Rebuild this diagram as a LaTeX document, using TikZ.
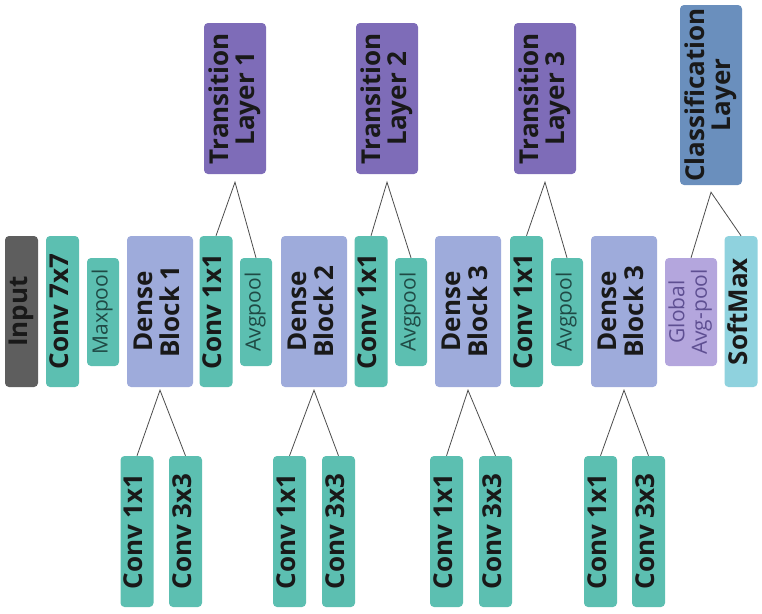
\documentclass[tikz,border=0pt]{standalone}
\usepackage{fontspec}
\setmainfont{Open Sans}
\usepackage{tikz}
\usetikzlibrary{calc,positioning}

\definecolor{inputgray}{HTML}{5E5E5E}
\definecolor{convteal}{HTML}{5CBFB1}
\definecolor{denseblue}{HTML}{9EABDB}
\definecolor{transpurple}{HTML}{7E6CB8}
\definecolor{classblue}{HTML}{6A8FBD}
\definecolor{globallilac}{HTML}{B4A6DD}
\definecolor{softcyan}{HTML}{8FD2DE}
\definecolor{pooltext}{HTML}{1F4A45}
\definecolor{globaltext}{HTML}{5E4F92}

\newcommand{\vtext}[1]{\rotatebox{90}{\begin{tabular}{@{}c@{}}#1\end{tabular}}}

\tikzset{
  layerbox/.style={rounded corners=4pt, inner sep=0pt, text=black!90,
    font=\fontsize{26}{24}\selectfont\bfseries},
  tallbox/.style={layerbox, minimum width=33pt, minimum height=151pt},
  convbox/.style={tallbox, fill=convteal},
  poolbox/.style={layerbox, fill=convteal, minimum width=32pt, minimum height=108pt,
    text=pooltext, font=\fontsize{21}{22}\selectfont},
  densebox/.style={layerbox, fill=denseblue, minimum width=66pt, minimum height=151pt},
  transbox/.style={layerbox, fill=transpurple, minimum width=62pt, minimum height=151pt},
  link/.style={draw=black!70, line width=0.8pt}
}

\begin{document}
\begin{tikzpicture}[x=1pt, y=-1pt]
\useasboundingbox (0,0) rectangle (762,613);

% main row
\node[tallbox, fill=inputgray] (in) at (21.5,311.5) {\vtext{Input}};
\node[convbox] (c7) at (62.5,311.5) {\vtext{Conv 7x7}};
\node[poolbox] (mp) at (103,312) {\vtext{Maxpool}};
\node[densebox] (db1) at (160,311.5) {\vtext{Dense\\Block 1}};
\node[convbox] (t1c) at (216,311.5) {\vtext{Conv 1x1}};
\node[poolbox] (t1p) at (256,312) {\vtext{Avgpool}};
\node[densebox] (db2) at (314,311.5) {\vtext{Dense\\Block 2}};
\node[convbox] (t2c) at (371,311.5) {\vtext{Conv 1x1}};
\node[poolbox] (t2p) at (411,312) {\vtext{Avgpool}};
\node[densebox] (db3) at (468,311.5) {\vtext{Dense\\Block 3}};
\node[convbox] (t3c) at (526.5,311.5) {\vtext{Conv 1x1}};
\node[poolbox] (t3p) at (567,312) {\vtext{Avgpool}};
\node[densebox] (db4) at (624,311.5) {\vtext{Dense\\Block 3}};
\node[poolbox, fill=globallilac, minimum width=52pt, text=globaltext] (gap) at (691,312) {\vtext{Global\\Avg-pool}};
\node[tallbox, fill=softcyan] (sm) at (741,311.5) {\vtext{SoftMax}};

% top row
\node[transbox] (tl1) at (235,98.5) {\vtext{Transition\\Layer 1}};
\node[transbox] (tl2) at (387,98.5) {\vtext{Transition\\Layer 2}};
\node[transbox] (tl3) at (545,98.5) {\vtext{Transition\\Layer 3}};
\node[transbox, fill=classblue, minimum height=180pt] (cl) at (711,95) {\vtext{Classification\\Layer}};

% bottom row
\node[convbox] (b1a) at (137,531.5) {\vtext{Conv 1x1}};
\node[convbox] (b1b) at (185.5,531.5) {\vtext{Conv 3x3}};
\node[convbox] (b2a) at (289.5,531.5) {\vtext{Conv 1x1}};
\node[convbox] (b2b) at (338.5,531.5) {\vtext{Conv 3x3}};
\node[convbox] (b3a) at (446.5,531.5) {\vtext{Conv 1x1}};
\node[convbox] (b3b) at (495.5,531.5) {\vtext{Conv 3x3}};
\node[convbox] (b4a) at (600.5,531.5) {\vtext{Conv 1x1}};
\node[convbox] (b4b) at (648.5,531.5) {\vtext{Conv 3x3}};

% apexes
\coordinate (ap1) at ($(tl1.south)+(0,8)$);
\coordinate (ap2) at ($(tl2.south)+(0,8)$);
\coordinate (ap3) at ($(tl3.south)+(0,8)$);
\coordinate (apc) at ($(cl.south)+(0,7)$);
\coordinate (bp1) at ($(db1.south)+(0,3)$);
\coordinate (bp2) at ($(db2.south)+(0,3)$);
\coordinate (bp3) at ($(db3.south)+(0,3)$);
\coordinate (bp4) at ($(db4.south)+(0,3)$);

\draw[link] (t1c.north) -- (ap1) -- (t1p.north);
\draw[link] (t2c.north) -- (ap2) -- (t2p.north);
\draw[link] (t3c.north) -- (ap3) -- (t3p.north);
\draw[link] (gap.north) -- (apc) -- (sm.north);

\draw[link] (b1a.north) -- (bp1) -- (b1b.north);
\draw[link] (b2a.north) -- (bp2) -- (b2b.north);
\draw[link] (b3a.north) -- (bp3) -- (b3b.north);
\draw[link] (b4a.north) -- (bp4) -- (b4b.north);

\end{tikzpicture}
\end{document}
